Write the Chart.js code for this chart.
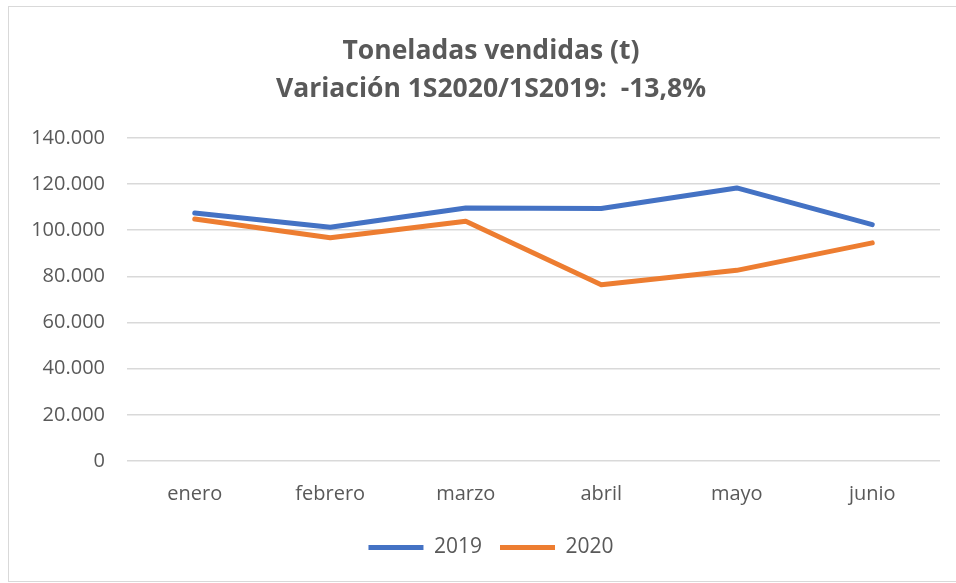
<!DOCTYPE html>
<html>
<head>
<meta charset="utf-8">
<script src="https://cdn.jsdelivr.net/npm/chart.js@4/dist/chart.umd.min.js"></script>
<style>
  html, body { margin:0; padding:0; background:#fff; }
  #frame { position:absolute; left:8px; top:6px; width:960px; height:576px; border:1px solid #d9d9d9; box-sizing:border-box; }
  #wrap { position:absolute; left:0; top:0; width:956px; height:583px; }
</style>
</head>
<body>
<div id="frame"></div>
<div id="wrap"><canvas id="c" width="956" height="583"></canvas></div>
<script>
// ── Toneladas vendidas 1S2019 vs 1S2020 ─────────────────────────────
const MONTHS = ["enero","febrero","marzo","abril","mayo","junio"];
const S2019  = [107400, 101300, 109600, 109400, 118300, 102400];
const S2020  = [104800, 96700, 103900, 76400, 82600, 94500];
const TITLE  = ["Toneladas vendidas (t)", "Variación 1S2020/1S2019:  -13,8%"];

const GREY = "#595959";
const FONT = "'Open Sans', 'Noto Sans', sans-serif";

const fmt = v => String(v).replace(/\B(?=(\d{3})+(?!\d))/g, ".");

// Excel centres title + legend a bit right of the canvas middle
const nudge = {
  id: "nudge",
  afterLayout(chart){
    [chart.titleBlock, chart.legend].forEach(b => { if (b){ b.left += 21; b.right += 21; } });
  },
};

new Chart(document.getElementById("c"), {
  type: "line",
  data: {
    labels: MONTHS,
    datasets: [
      { label:"2019", data:S2019, borderColor:"#4472c4", backgroundColor:"#4472c4" },
      { label:"2020", data:S2020, borderColor:"#ed7d31", backgroundColor:"#ed7d31" },
    ],
  },
  plugins: [nudge],
  options: {
    responsive:false, animation:false,
    elements: {
      line: { borderWidth:5, tension:0, borderCapStyle:"round", borderJoinStyle:"round" },
      point: { radius:0, hoverRadius:0 },
    },
    layout: { padding:{ left:0, right:16, top:0, bottom:15 } },
    plugins: {
      tooltip: { enabled:false },
      title: {
        display:true, text:TITLE, color:GREY,
        font:{ family:FONT, size:26.5, weight:"bold", lineHeight:1.45 },
        padding:{ top:32, bottom:29 },
      },
      legend: {
        position:"bottom",
        labels: {
          color:GREY, font:{ family:FONT, size:21 },
          boxWidth:55, boxHeight:5, padding:18,
          generateLabels: chart => chart.data.datasets.map((ds, i) => ({
            text: ds.label, fillStyle: ds.borderColor, strokeStyle: ds.borderColor,
            lineWidth: 0, fontColor: GREY, datasetIndex: i,
          })),
        },
      },
    },
    scales: {
      x: {
        offset:true,
        grid:{ display:false },
        border:{ display:false },
        ticks:{ color:GREY, font:{ family:FONT, size:20 }, padding:13 },
      },
      y: {
        min:0, max:140000,
        afterFit: s => { s.width = 127; },
        grid:{ color:"#d9d9d9", lineWidth:1.5, drawTicks:false },
        border:{ display:false },
        ticks:{ stepSize:20000, color:GREY, font:{ family:FONT, size:20 }, padding:22, callback:fmt },
      },
    },
  },
});
</script>
</body>
</html>
